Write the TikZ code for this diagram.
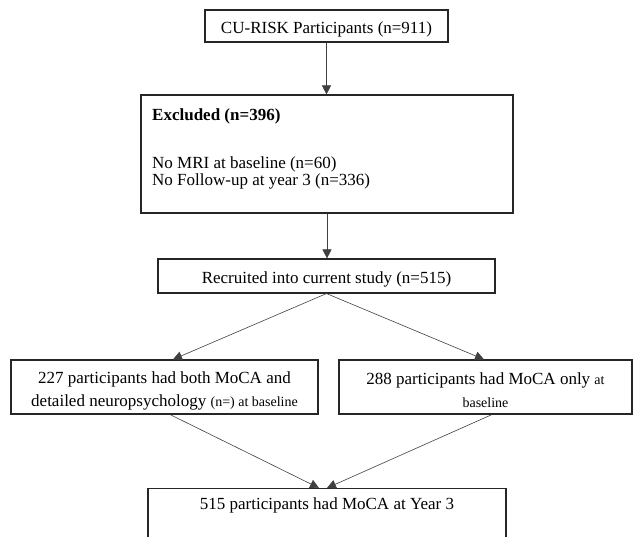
\documentclass[tikz,border=0pt]{standalone}
\usepackage{fontspec}
\setmainfont{Liberation Serif}
\usetikzlibrary{arrows.meta,positioning,calc}
\newcommand{\klein}{\fontsize{14}{23}\selectfont}
\newcommand{\hochzeile}{\rule{0pt}{19pt}}
\begin{document}
\begin{tikzpicture}[x=1pt,y=1pt,
  kasten/.style={draw=black!85,line width=1.1pt,rectangle,inner sep=0pt,align=center,font=\fontsize{17}{23}\selectfont,
    execute at begin node={\hochzeile}},
  schrift/.style={inner sep=0pt,font=\fontsize{17}{17}\selectfont},
  pfeil/.style={draw=black!75,line width=0.6pt,-{Triangle[width=9pt,length=9pt]}}]
\useasboundingbox (0,0) rectangle (633,537);
\clip (0,0) rectangle (633,537);
%Masse in Pixeln des Bildes, y von unten gezaehlt
\node[kasten,minimum width=243,minimum height=32] (alle) at (326.5,511) {CU-RISK Participants (n=911)};
\node[kasten,minimum width=372,minimum height=118] (ausschluss) at (327,383) {};
\node[schrift,anchor=north west,align=left] (ausschlusstext) at (152,428) {\textbf{Excluded (n=396)}\\[31pt]No MRI at baseline (n=60)\\No Follow-up at year 3 (n=336)};
\node[kasten,minimum width=337,minimum height=34] (rekrutiert) at (326.5,261) {Recruited into current study (n=515)};
%zweizeilig: erste Zeile etwas hoeher
\node[kasten,minimum width=307,minimum height=54] (links) at (164.5,150) {\hochzeile 227 participants had both MoCA and\\detailed neuropsychology {\klein (n=) at baseline}};
\node[kasten,minimum width=293,minimum height=54] (rechts) at (485.5,150) {\hochzeile 288 participants had MoCA only {\klein at}\\{\klein baseline}};
%unterer Kasten geht ueber den Rand hinaus
\node[kasten,minimum width=358,minimum height=80,anchor=north] (jahr3) at (327,49) {};
\node[schrift] (jahr3text) at (327,32) {515 participants had MoCA at Year 3};
\draw[pfeil] (alle.south) -- (alle.south |- ausschluss.north);
\draw[pfeil] (ausschluss.south) -- (ausschluss.south |- rekrutiert.north);
\draw[pfeil] (rekrutiert.south) -- ([xshift=8.5pt]links.north);
\draw[pfeil] (rekrutiert.south) -- ([xshift=-1.5pt]rechts.north);
\draw[pfeil] ([xshift=5.5pt]links.south) -- ([xshift=-8pt]jahr3.north);
\draw[pfeil] ([xshift=6.5pt]rechts.south) -- (jahr3.north);
\end{tikzpicture}
\end{document}
